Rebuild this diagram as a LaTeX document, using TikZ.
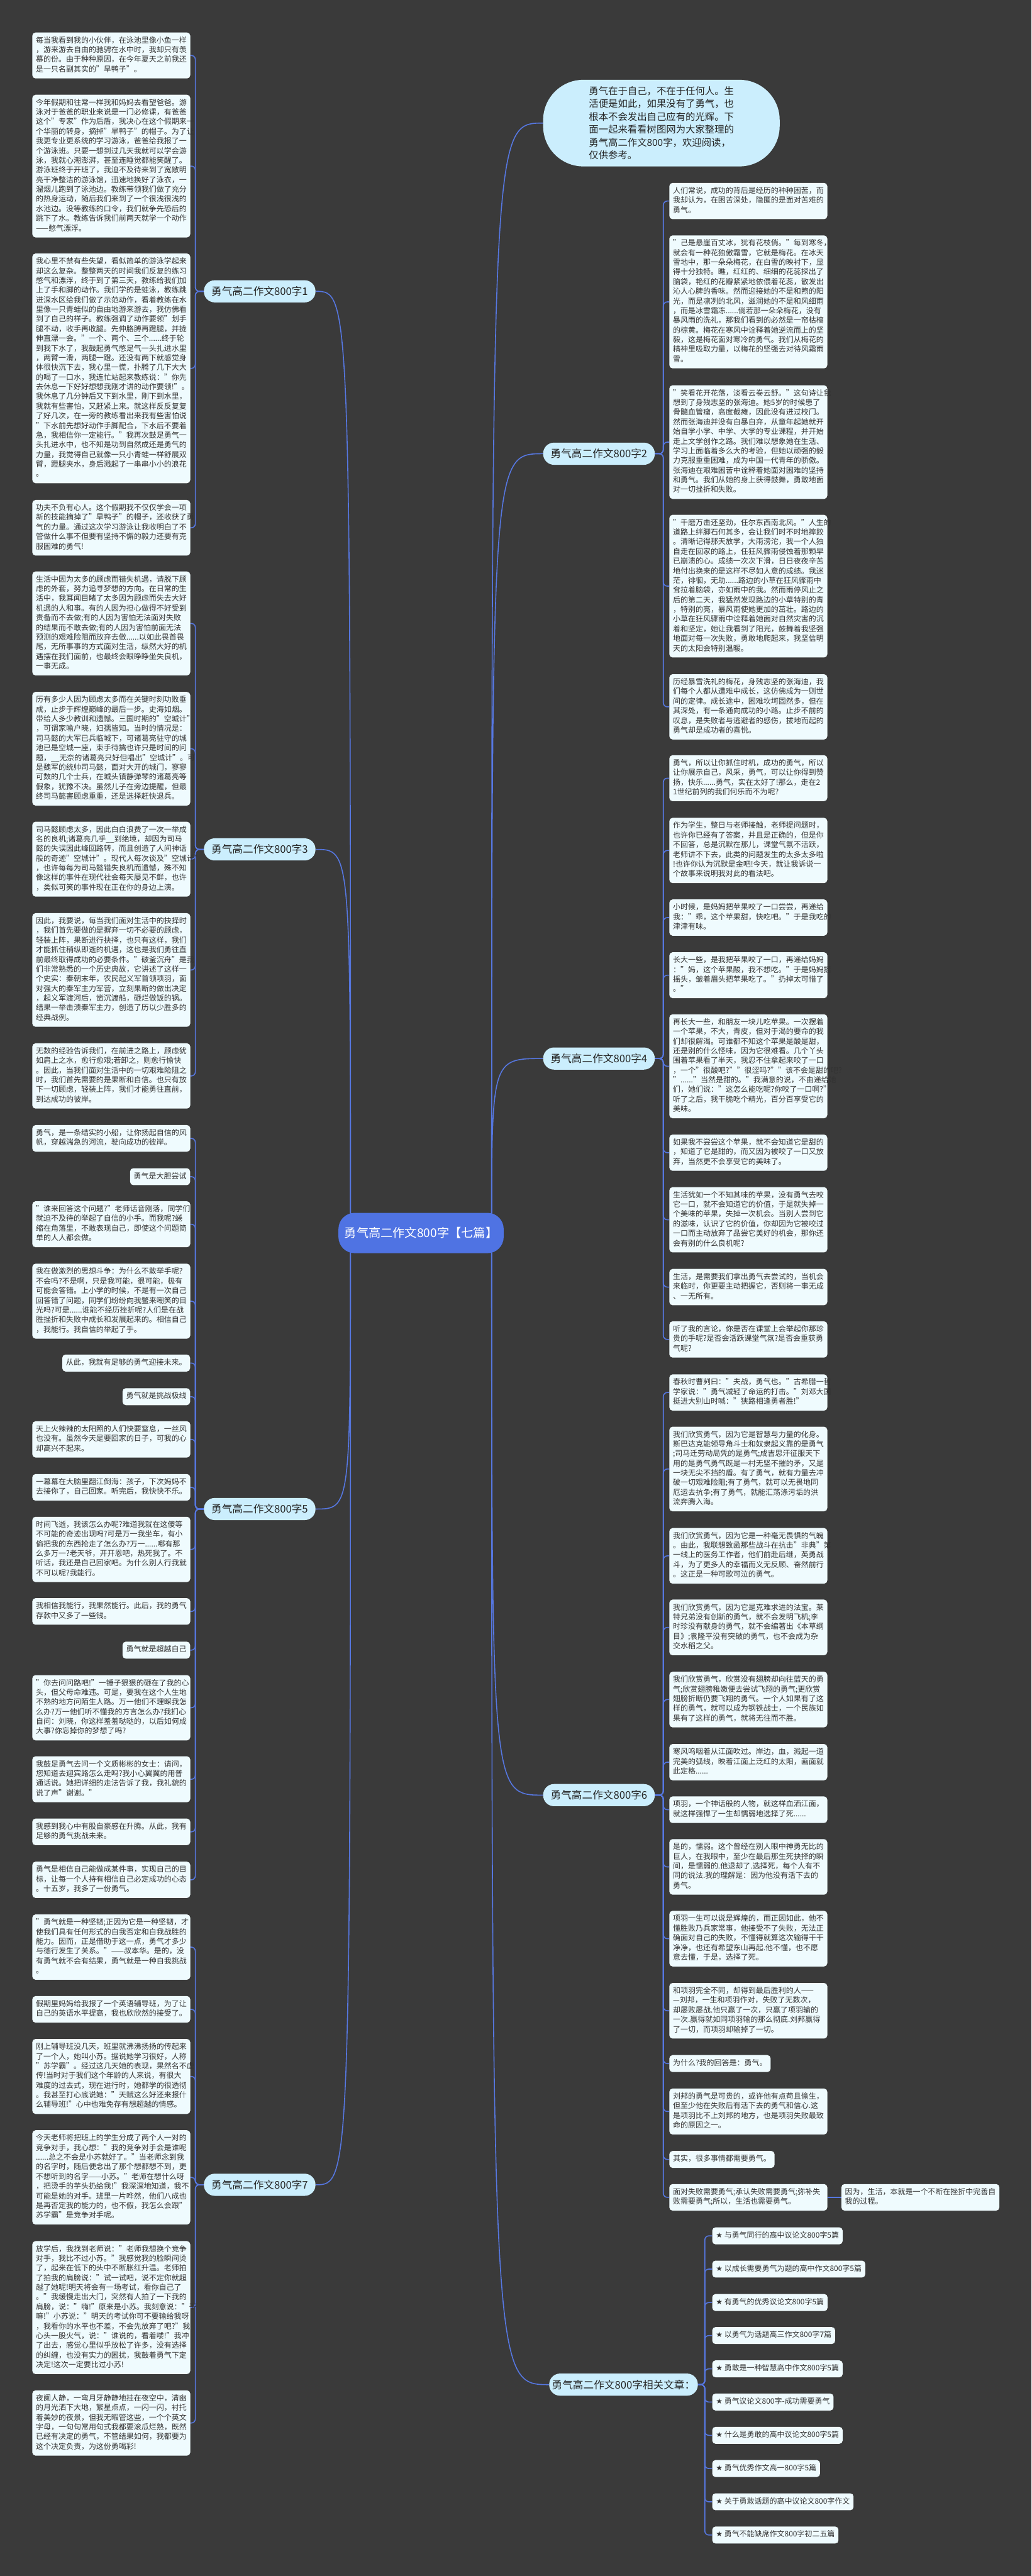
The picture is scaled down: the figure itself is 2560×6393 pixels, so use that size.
\documentclass[tikz,border=0pt]{standalone}
\usepackage{fontspec}
\setmainfont{Noto Sans CJK SC}
\newfontfamily\symfont{DejaVu Sans}
\definecolor{bgc}{HTML}{3A3A3A}
\definecolor{boxc}{HTML}{EFFBFE}
\definecolor{brc}{HTML}{CBEEFD}
\definecolor{linec}{HTML}{5677E0}
\definecolor{rootc}{HTML}{4F73E3}
\definecolor{txtc}{HTML}{333333}
\pgfdeclarelayer{bg}
\pgfsetlayers{bg,main}
\tikzset{
 card/.style={fill=boxc, rounded corners=8pt, inner xsep=9pt, inner ysep=9pt, text=txtc,
   font=\fontsize{18.7}{24}\selectfont, align=left,
   execute at begin node=\strut, execute at end node=\strut},
 lcard/.style={card, text width=374pt, anchor=north west},
 rcard/.style={card, text width=374pt, anchor=north west},
 lshort/.style={card, anchor=north east},
 rshort/.style={card, anchor=north west},
 branch/.style={fill=brc, rounded corners=27pt, minimum width=277pt, minimum height=55pt,
   inner sep=0pt, font=\fontsize{26}{30}\selectfont, text=black!85},
 root/.style={fill=rootc, rounded corners=40pt, minimum width=410pt, minimum height=100pt,
   inner sep=0pt, font=\fontsize{30}{34}\selectfont, text=white},
 intro/.style={fill=brc, rounded corners=100pt, minimum width=587pt, minimum height=215pt,
   inner sep=0pt, font=\fontsize{24}{32}\selectfont, text=black!85, align=left},
 conn/.style={draw=linec, line width=2.5pt, rounded corners=10pt},
 mainconn/.style={draw=linec, line width=2.5pt},
}
\begin{document}
\begin{tikzpicture}[x=1pt,y=-1pt]
\path[use as bounding box] (0,0) rectangle (2560,6393);

% ---------- centre, intro and branches ----------
\node[root] (C) at (1045,3060) {勇气高二作文800字【七篇】};
\node[intro] (I) at (1641.5,305.5) {勇气在于自己，不在于任何人。生\\活便是如此，如果没有了勇气，也\\根本不会发出自己应有的光辉。下\\面一起来看看树图网为大家整理的\\勇气高二作文800字，欢迎阅读，\\仅供参考。};
\node[branch] (B1) at (644.5,723) {勇气高二作文800字1};
\node[branch] (B3) at (644.5,2108) {勇气高二作文800字3};
\node[branch] (B5) at (644.5,3745) {勇气高二作文800字5};
\node[branch] (B7) at (644.5,5422) {勇气高二作文800字7};
\node[branch] (B2) at (1486.5,1126) {勇气高二作文800字2};
\node[branch] (B4) at (1486.5,2627) {勇气高二作文800字4};
\node[branch] (B6) at (1486.5,4455) {勇气高二作文800字6};
\node[branch, minimum width=369pt] (RA) at (1547.5,5918) {勇气高二作文800字相关文章：};

% ---------- left column ----------
\node[lcard] (L1) at (80,80.5) {每当我看到我的小伙伴，在泳池里像小鱼一样\\，游来游去自由的驰骋在水中时，我却只有羡\\慕的份。由于种种原因，在今年夏天之前我还\\是一只名副其实的"旱鸭子"。};
\node[lcard] (L2) at (80,235) {今年假期和往常一样我和妈妈去看望爸爸。游\\泳对于爸爸的职业来说是一门必修课，有爸爸\\这个"专家"作为后盾，我决心在这个假期来一\\个华丽的转身，摘掉"旱鸭子"的帽子。为了让\\我更专业更系统的学习游泳，爸爸给我报了一\\个游泳班。只要一想到过几天我就可以学会游\\泳，我就心潮澎湃，甚至连睡觉都能笑醒了。\\游泳班终于开班了，我迫不及待来到了宽敞明\\亮干净整洁的游泳馆，迅速地换好了泳衣，一\\溜烟儿跑到了泳池边。教练带领我们做了充分\\的热身运动，随后我们来到了一个很浅很浅的\\水池边。没等教练的口令，我们就争先恐后的\\跳下了水。教练告诉我们前两天就学一个动作\\——憋气漂浮。};
\node[lcard] (L3) at (80,629) {我心里不禁有些失望，看似简单的游泳学起来\\却这么复杂。整整两天的时间我们反复的练习\\憋气和漂浮，终于到了第三天，教练给我们加\\上了手和脚的动作。我们学的是蛙泳，教练跳\\进深水区给我们做了示范动作，看着教练在水\\里像一只青蛙似的自由地游来游去，我仿佛看\\到了自己的样子。教练强调了动作要领"划手\\腿不动，收手再收腿。先伸胳膊再蹬腿，并拢\\伸直漂一会。"一个、两个、三个......终于轮\\到我下水了，我鼓起勇气憋足气一头扎进水里\\，两臂一滑，两腿一蹬。还没有两下就感觉身\\体很快沉下去，我心里一慌，扑腾了几下大大\\的喝了一口水，我连忙站起来教练说："你先\\去休息一下好好想想我刚才讲的动作要领!"。\\我休息了几分钟后又下到水里，刚下到水里，\\我就有些害怕，又赶紧上来。就这样反反复复\\了好几次，在一旁的教练看出来我有些害怕说\\"下水前先想好动作手脚配合，下水后不要着\\急，我相信你一定能行。"我再次鼓足勇气一\\头扎进水中，也不知是功到自然成还是勇气的\\力量，我觉得自己就像一只小青蛙一样舒展双\\臂，蹬腿夹水，身后溅起了一串串小小的浪花\\。};
\node[lcard] (L4) at (80,1240.6) {功夫不负有心人。这个假期我不仅仅学会一项\\新的技能摘掉了"旱鸭子"的帽子，还收获了勇\\气的力量。通过这次学习游泳让我收明白了不\\管做什么事不但要有坚持不懈的毅力还要有克\\服困难的勇气!};
\node[lcard] (L5) at (80,1418) {生活中因为太多的顾虑而错失机遇，请脱下顾\\虑的外套，努力追寻梦想的方向。在日常的生\\活中，我耳闻目睹了太多因为顾虑而失去大好\\机遇的人和事。有的人因为担心做得不好受到\\责备而不去做;有的人因为害怕无法面对失败\\的结果而不敢去做;有的人因为害怕前面无法\\预测的艰难险阻而放弃去做......以如此畏首畏\\尾，无所事事的方式面对生活，纵然大好的机\\遇摆在我们面前，也最终会眼睁睁坐失良机，\\一事无成。};
\node[lcard] (L6) at (80,1717) {历有多少人因为顾虑太多而在关键时刻功败垂\\成，止步于辉煌巅峰的最后一步。史海如烟。\\带给人多少教训和遗憾。三国时期的"空城计"\\，可谓家喻户晓，妇孺皆知。当时的情况是：\\司马懿的大军已兵临城下，可诸葛亮驻守的城\\池已是空城一座，束手待擒也许只是时间的问\\题，\_\_无奈的诸葛亮只好但唱出"空城计"。可\\是魏军的统帅司马懿，面对大开的城门，寥寥\\可数的几个士兵，在城头镇静弹琴的诸葛亮等\\假象，犹豫不决。虽然儿子在旁边提醒，但最\\终司马懿害顾虑重重，还是选择赶快退兵。};
\node[lcard] (L7) at (80,2039) {司马懿顾虑太多，因此白白浪费了一次一举成\\名的良机;诸葛亮几乎\_\_到绝境，却因为司马\\懿的失误因此峰回路转，而且创造了人间神话\\般的奇迹"空城计"。现代人每次谈及"空城计"\\，也许每每为司马懿错失良机而遗憾，殊不知\\像这样的事件在现代社会每天屡见不鲜，也许\\，类似可笑的事件现在正在你的身边上演。};
\node[lcard] (L8) at (80,2266) {因此，我要说，每当我们面对生活中的抉择时\\，我们首先要做的是摒弃一切不必要的顾虑，\\轻装上阵，果断进行抉择，也只有这样，我们\\才能抓住稍纵即逝的机遇，这也是我们勇往直\\前最终取得成功的必要条件。"破釜沉舟"是我\\们非常熟悉的一个历史典故，它讲述了这样一\\个史实：秦朝末年，农民起义军首领项羽，面\\对强大的秦军主力军营，立刻果断的做出决定\\，起义军渡河后，凿沉渡船，砸烂做饭的锅。\\结果一举击溃秦军主力，创造了历以少胜多的\\经典战例。};
\node[lcard] (L9) at (80,2589) {无数的经验告诉我们，在前进之路上，顾虑犹\\如肩上之水，愈行愈艰;若卸之，则愈行愉快\\。因此，当我们面对生活中的一切艰难险阻之\\时，我们首先需要的是果断和自信。也只有放\\下一切顾虑，轻装上阵，我们才能勇往直前，\\到达成功的彼岸。};
\node[lcard] (L10) at (80,2792) {勇气，是一条结实的小船，让你扬起自信的风\\帆，穿越湍急的河流，驶向成功的彼岸。};
\node[lshort] (L11) at (472,2899) {勇气是大胆尝试};
\node[lcard] (L12) at (80,2981) {"谁来回答这个问题?"老师话音刚落，同学们\\就迫不及待的举起了自信的小手。而我呢?蜷\\缩在角落里，不敢表现自己，即使这个问题简\\单的人人都会做。};
\node[lcard] (L13) at (80,3136) {我在做激烈的思想斗争：为什么不敢举手呢?\\不会吗?不是啊，只是我可能，很可能，极有\\可能会答错。上小学的时候，不是有一次自己\\回答错了问题，同学们纷纷向我鳖来嘲笑的目\\光吗?可是......谁能不经历挫折呢?人们是在战\\胜挫折和失败中成长和发展起来的。相信自己\\，我能行。我自信的举起了手。};
\node[lshort] (L14) at (472,3361.5) {从此，我就有足够的勇气迎接未来。};
\node[lshort] (L15) at (472,3445) {勇气就是挑战极线};
\node[lcard] (L16) at (80,3527) {天上火辣辣的太阳照的人们快要窒息，一丝风\\也没有。虽然今天是要回家的日子，可我的心\\却高兴不起来。};
\node[lcard] (L17) at (80,3658) {一幕幕在大脑里翻江倒海：孩子，下次妈妈不\\去接你了，自己回家。听完后，我快快不乐。};
\node[lcard] (L18) at (80,3764) {时间飞逝，我该怎么办呢?难道我就在这傻等\\不可能的奇迹出现吗?可是万一我坐车，有小\\偷把我的东西抢走了怎么办?万一......哪有那\\么多万一?老天爷，开开恩吧，热死我了。不\\听话，我还是自己回家吧。为什么别人行我就\\不可以呢?我能行。};
\node[lcard] (L19) at (80,3966) {我相信我能行，我果然能行。此后，我的勇气\\存款中又多了一些钱。};
\node[lshort] (L20) at (472,4074) {勇气就是超越自己};
\node[lcard] (L21) at (80,4157) {"你去问问路吧!"一锤子狠狠的砸在了我的心\\头，但父母命难违。可是，要我在这个人生地\\不熟的地方问陌生人路。万一他们不理睬我怎\\么办?万一他们听不懂我的方言怎么办?我扪心\\自问：刘晓，你这样羞羞哒哒的，以后如何成\\大事?你忘掉你的梦想了吗?};
\node[lcard] (L22) at (80,4358.5) {我鼓足勇气去问一个文质彬彬的女士：请问，\\您知道去迎宾路怎么走吗?我小心翼翼的用普\\通话说。她把详细的走法告诉了我，我礼貌的\\说了声"谢谢。"};
\node[lcard] (L23) at (80,4513) {我感到我心中有股自豪感在升腾。从此，我有\\足够的勇气挑战未来。};
\node[lcard] (L24) at (80,4620) {勇气是相信自己能做成某件事，实现自己的目\\标，让每一个人持有相信自己必定成功的心态\\。十五岁，我多了一份勇气。};
\node[lcard] (L25) at (80,4751) {"勇气就是一种坚韧;正因为它是一种坚韧，才\\使我们具有任何形式的自我否定和自我战胜的\\能力。因而，正是借助于这一点，勇气才多少\\与德行发生了关系。"——叔本华。是的，没\\有勇气就不会有结果，勇气就是一种自我挑战\\。};
\node[lcard] (L26) at (80,4953.5) {假期里妈妈给我报了一个英语辅导班，为了让\\自己的英语水平提高，我也欣欣然的接受了。};
\node[lcard] (L27) at (80,5060) {刚上辅导班没几天，班里就沸沸扬扬的传起来\\了一个人，她叫小苏。据说她学习很好，人称\\"苏学霸"。经过这几天她的表现，果然名不虚\\传!当时对于我们这个年龄的人来说，有很大\\难度的过去式，现在进行时，她都学的很透彻\\。我甚至打心底说她："天赋这么好还来报什\\么辅导班!"心中也难免存有想超越的情感。};
\node[lcard] (L28) at (80,5286.5) {今天老师将把班上的学生分成了两个人一对的\\竞争对手，我心想："我的竞争对手会是谁呢\\......总之不会是小苏就好了。"当老师念到我\\的名字时，随后便念出了那个想都想不到，更\\不想听到的名字——小苏。"老师在想什么呀\\，把烫手的芋头扔给我!"我深深地知道，我不\\可能是她的对手。班里一片哗然，他们八成也\\是再否定我的能力的，也不假，我怎么会跟"\\苏学霸"是竞争对手呢。};
\node[lcard] (L29) at (80,5561.6) {放学后，我找到老师说："老师我想换个竞争\\对手，我比不过小苏。"我感觉我的脸瞬间烫\\了，起来在低下的头中不断胀红升温。老师拍\\了拍我的肩膀说："试一试吧，说不定你就超\\越了她呢!明天将会有一场考试，看你自己了\\。"我缓慢走出大门，突然有人拍了一下我的\\肩膀，说："嗨!"原来是小苏。我刻意说："干\\嘛!"小苏说："明天的考试你可不要输给我呀\\，我看你的水平也不差，不会先放弃了吧?"我\\心头一股火气，说："谁说的，看着喽!"我冲\\了出去，感觉心里似乎放松了许多，没有选择\\的纠缠，也没有实力的困扰，我鼓着勇气下定\\决定!这次一定要比过小苏!};
\node[lcard] (L30) at (80,5932) {夜阑人静，一弯月牙静静地挂在夜空中，清幽\\的月光洒下大地，繁星点点，一闪一闪，衬托\\着美妙的夜景，但我无暇管这些，一个个英文\\字母，一句句常用句式我都要滚瓜烂熟，既然\\已经有决定的勇气，不管结果如何，我都要为\\这个决定负责，为这份勇喝彩!};

% ---------- right column ----------
\node[rcard] (R1) at (1661,453.7) {人们常说，成功的背后是经历的种种困苦，而\\我却认为，在困苦深处，隐匿的是面对苦难的\\勇气。};
\node[rcard] (R2) at (1661,584) {"己是悬崖百丈冰，犹有花枝俏。"每到寒冬，\\就会有一种花独傲霜雪，它就是梅花。在冰天\\雪地中，那一朵朵梅花，在白雪的映衬下，显\\得十分独特。瞧，红红的、细细的花蕊探出了\\脑袋，艳红的花瓣紧紧地依偎着花蕊，散发出\\沁人心脾的香味。然而迎接她的不是和煦的阳\\光，而是凛冽的北风，滋润她的不是和风细雨\\，而是冰雪霜冻......倘若那一朵朵梅花，没有\\暴风雨的洗礼，那我们看到的必然是一帘枯槁\\的棕黄。梅花在寒风中诠释着她逆流而上的坚\\毅，这是梅花面对寒冷的勇气。我们从梅花的\\精神里吸取力量，以梅花的坚强去对待风霜雨\\雪。};
\node[rcard] (R3) at (1661,956) {"笑看花开花落，淡看云卷云舒。"这句诗让我\\想到了身残志坚的张海迪。她5岁的时候患了\\骨髓血管瘤，高度截瘫，因此没有进过校门。\\然而张海迪并没有自暴自弃，从童年起她就开\\始自学小学、中学、大学的专业课程，并开始\\走上文学创作之路。我们难以想象她在生活、\\学习上面临着多么大的考验，但她以顽强的毅\\力克服重重困难，成为中国一代青年的骄傲。\\张海迪在艰难困苦中诠释着她面对困难的坚持\\和勇气。我们从她的身上获得鼓舞，勇敢地面\\对一切挫折和失败。};
\node[rcard] (R4) at (1661,1277.5) {"千磨万击还坚劲，任尔东西南北风。"人生的\\道路上绊脚石何其多，会让我们时不时地摔跤\\。清晰记得那天放学，大雨滂沱，我一个人独\\自走在回家的路上，任狂风骤雨侵蚀着那颗早\\已崩溃的心。成绩一次次下滑，日日夜夜辛苦\\地付出换来的是这样不尽如人意的成绩。我迷\\茫，徘徊，无助......路边的小草在狂风骤雨中\\耷拉着脑袋，亦如雨中的我。然而雨停风止之\\后的第二天，我猛然发现路边的小草特别的青\\，特别的亮，暴风雨使她更加的茁壮。路边的\\小草在狂风骤雨中诠释着她面对自然灾害的沉\\着和坚定，她让我看到了阳光，鼓舞着我坚强\\地面对每一次失败，勇敢地爬起来，我坚信明\\天的太阳会特别温暖。};
\node[rcard] (R5) at (1661,1673) {历经暴雪洗礼的梅花，身残志坚的张海迪，我\\们每个人都从遭难中成长，这仿佛成为一则世\\间的定律。成长途中，困难坎坷固然多，但在\\其深处，有一条通向成功的小路。止步不前的\\叹息，是失败者与逃避者的感伤，拔地而起的\\勇气却是成功者的喜悦。};
\node[rcard] (R6) at (1661,1874) {勇气，所以让你抓住时机，成功的勇气，所以\\让你展示自己，风采，勇气，可以让你得到赞\\扬，快乐......勇气，实在太好了!那么，走在2\\1世纪前列的我们何乐而不为呢?};
\node[rcard] (R7) at (1661,2029.5) {作为学生，整日与老师接触，老师提问题时，\\也许你已经有了答案，并且是正确的，但是你\\不回答，总是沉默在那儿，课堂气氛不活跃，\\老师讲不下去，此类的问题发生的太多太多啦\\!也许你认为沉默是金吧!今天，就让我诉说一\\个故事来说明我对此的看法吧。};
\node[rcard] (R8) at (1661,2232) {小时候，是妈妈把苹果咬了一口尝尝，再递给\\我："乖，这个苹果甜，快吃吧。"于是我吃的\\津津有味。};
\node[rcard] (R9) at (1661,2363) {长大一些，是我把苹果咬了一口，再递给妈妈\\："妈，这个苹果酸，我不想吃。"于是妈妈摇\\摇头，皱着眉头把苹果吃了。"扔掉太可惜了\\。"};
\node[rcard] (R10) at (1661,2517) {再长大一些，和朋友一块儿吃苹果。一次摆着\\一个苹果，不大，青皮，但对于渴的要命的我\\们却很解渴。可谁都不知这个苹果是酸是甜，\\还是别的什么怪味，因为它很难看。几个丫头\\围着苹果看了半天，我忍不住拿起来咬了一口\\，一个"很酸吧?""很涩吗?""该不会是甜的吧?\\"......"当然是甜的。"我满意的说，不由递给她\\们，她们说："这怎么能吃呢?你咬了一口啊?"\\听了之后，我干脆吃个精光，百分百享受它的\\美味。};
\node[rcard] (R11) at (1661,2815.5) {如果我不尝尝这个苹果，就不会知道它是甜的\\，知道了它是甜的，而又因为被咬了一口又放\\弃，当然更不会享受它的美味了。};
\node[rcard] (R12) at (1661,2946) {生活犹如一个不知其味的苹果，没有勇气去咬\\它一口，就不会知道它的价值，于是就失掉一\\个美味的苹果，失掉一次机会。当别人尝到它\\的滋味，认识了它的价值，你却因为它被咬过\\一口而主动放弃了品尝它美好的机会，那你还\\会有别的什么良机呢?};
\node[rcard] (R13) at (1661,3149) {生活，是需要我们拿出勇气去尝试的，当机会\\来临时，你更要主动把握它，否则将一事无成\\、一无所有。};
\node[rcard] (R14) at (1661,3279) {听了我的言论，你是否在课堂上会举起你那珍\\贵的手呢?是否会活跃课堂气氛?是否会重获勇\\气呢?};
\node[rcard] (R15) at (1661,3410.6) {春秋时曹刿曰："夫战，勇气也。"古希腊一哲\\学家说："勇气减轻了命运的打击。"刘邓大国\\挺进大别山时喊："狭路相逢勇者胜!"};
\node[rcard] (R16) at (1661,3540.5) {我们欣赏勇气，因为它是智慧与力量的化身。\\斯巴达克能领导角斗士和奴隶起义靠的是勇气\\;司马迁劳动局凭的是勇气;成吉思汗征服天下\\用的是勇气勇气既是一村无坚不摧的矛，又是\\一块无尖不挡的盾。有了勇气，就有力量去冲\\破一切艰难险阻;有了勇气，就可以无畏地同\\厄运去抗争;有了勇气，就能汇荡涤污垢的洪\\流奔腾入海。};
\node[rcard] (R17) at (1661,3792) {我们欣赏勇气，因为它是一种毫无畏惧的气魄\\。由此，我联想致函那些战斗在抗击"非典"第\\一线上的医务工作者，他们前赴后继，英勇战\\斗，为了更多人的幸福而义无反顾、奋然前行\\。这正是一种可歌可泣的勇气。};
\node[rcard] (R18) at (1661,3969.6) {我们欣赏勇气，因为它是克难求进的法宝。莱\\特兄弟没有创新的勇气，就不会发明飞机;李\\时珍没有献身的勇气，就不会编著出《本草纲\\目》;袁隆平没有突破的勇气，也不会成为杂\\交水稻之父。};
\node[rcard] (R19) at (1661,4148.6) {我们欣赏勇气，欣赏没有翅膀却向往蓝天的勇\\气;欣赏翅膀稚嫩便去尝试飞翔的勇气;更欣赏\\翅膀折断仍要飞翔的勇气。一个人如果有了这\\样的勇气，就可以成为钢铁战士，一个民族如\\果有了这样的勇气，就将无往而不胜。};
\node[rcard] (R20) at (1661,4328) {寒风呜咽着从江面吹过。岸边，血，溅起一道\\完美的弧线，映着江面上泛红的太阳，画面就\\此定格......};
\node[rcard] (R21) at (1661,4458) {项羽，一个神话般的人物，就这样血洒江面，\\就这样强悍了一生却懦弱地选择了死......};
\node[rcard] (R22) at (1661,4564) {是的，懦弱。这个曾经在别人眼中神勇无比的\\巨人，在我眼中，至少在最后那生死抉择的瞬\\间，是懦弱的.他退却了.选择死，每个人有不\\同的说法.我的理解是：因为他没有活下去的\\勇气。};
\node[rcard] (R23) at (1661,4742) {项羽一生可以说是辉煌的，而正因如此，他不\\懂胜败乃兵家常事，他接受不了失败，无法正\\确面对自己的失败，不懂得就算这次输得干干\\净净，也还有希望东山再起.他不懂，也不愿\\意去懂，于是，选择了死。};
\node[rcard] (R24) at (1661,4921) {和项羽完全不同，却得到最后胜利的人——\\—刘邦，一生和项羽作对，失败了无数次，\\却屡败屡战.他只赢了一次，只赢了项羽输的\\一次.赢得就如同项羽输的那么彻底.刘邦赢得\\了一切，而项羽却输掉了一切。};
\node[rshort] (R25) at (1661,5100) {为什么?我的回答是：勇气。};
\node[rcard] (R26) at (1661,5183) {刘邦的勇气是可贵的，或许他有点苟且偷生，\\但至少他在失败后有活下去的勇气和信心.这\\是项羽比不上刘邦的地方，也是项羽失败最致\\命的原因之一。};
\node[rshort] (R27) at (1661,5338) {其实，很多事情都需要勇气。};
\node[rcard] (R28) at (1661,5420) {面对失败需要勇气;承认失败需要勇气;弥补失\\败需要勇气;所以，生活也需要勇气。};
\node[rcard] (R29) at (2088,5420) {因为，生活，本就是一个不断在挫折中完善自\\我的过程。};

% ---------- related articles ----------
\node[rshort] (A1) at (1767.5,5527.6) {{\symfont ★} 与勇气同行的高中议论文800字5篇};
\node[rshort] (A2) at (1767.5,5610) {{\symfont ★} 以成长需要勇气为题的高中作文800字5篇};
\node[rshort] (A3) at (1767.5,5693) {{\symfont ★} 有勇气的优秀议论文800字5篇};
\node[rshort] (A4) at (1767.5,5775) {{\symfont ★} 以勇气为话题高三作文800字7篇};
\node[rshort] (A5) at (1767.5,5857.6) {{\symfont ★} 勇敢是一种智慧高中作文800字5篇};
\node[rshort] (A6) at (1767.5,5940) {{\symfont ★} 勇气议论文800字-成功需要勇气};
\node[rshort] (A7) at (1767.5,6022.6) {{\symfont ★} 什么是勇敢的高中议论文800字5篇};
\node[rshort] (A8) at (1767.5,6105) {{\symfont ★} 勇气优秀作文高一800字5篇};
\node[rshort] (A9) at (1767.5,6187.6) {{\symfont ★} 关于勇敢话题的高中议论文800字作文};
\node[rshort] (A10) at (1767.5,6270) {{\symfont ★} 勇气不能缺席作文800字初二五篇};

% ---------- connectors (behind) ----------
\begin{pgfonlayer}{bg}
\fill[bgc] (0,0) rectangle (2560,6393);
\coordinate (cl) at ([xshift=30pt]C.west);
\coordinate (cr) at ([xshift=-30pt]C.east);
\foreach \b in {B1,B3,B5,B7}{\draw[mainconn] (cl) .. controls (cl |- \b.east) .. (\b.east);}
\foreach \b in {I,B2,B4,B6,RA}{\draw[mainconn] (cr) .. controls (cr |- \b.west) .. (\b.west);}
\foreach \c in {L1,L2,L3,L4}{\draw[conn] (B1.west) -- ++(-21,0) |- (\c.east);}
\foreach \c in {L5,L6,L7,L8,L9}{\draw[conn] (B3.west) -- ++(-21,0) |- (\c.east);}
\foreach \c in {L10,L11,L12,L13,L14,L15,L16,L17,L18,L19,L20,L21,L22,L23,L24}{\draw[conn] (B5.west) -- ++(-21,0) |- (\c.east);}
\foreach \c in {L25,L26,L27,L28,L29,L30}{\draw[conn] (B7.west) -- ++(-21,0) |- (\c.east);}
\foreach \c in {R1,R2,R3,R4,R5}{\draw[conn] (B2.east) -- ++(21,0) |- (\c.west);}
\foreach \c in {R6,R7,R8,R9,R10,R11,R12,R13,R14}{\draw[conn] (B4.east) -- ++(21,0) |- (\c.west);}
\foreach \c in {R15,R16,R17,R18,R19,R20,R21,R22,R23,R24,R25,R26,R27,R28}{\draw[conn] (B6.east) -- ++(21,0) |- (\c.west);}
\foreach \c in {A1,A2,A3,A4,A5,A6,A7,A8,A9,A10}{\draw[conn] (RA.east) -- ++(17,0) |- (\c.west);}
\draw[conn] (R28.east) -- (R29.west);
\end{pgfonlayer}
\end{tikzpicture}
\end{document}
